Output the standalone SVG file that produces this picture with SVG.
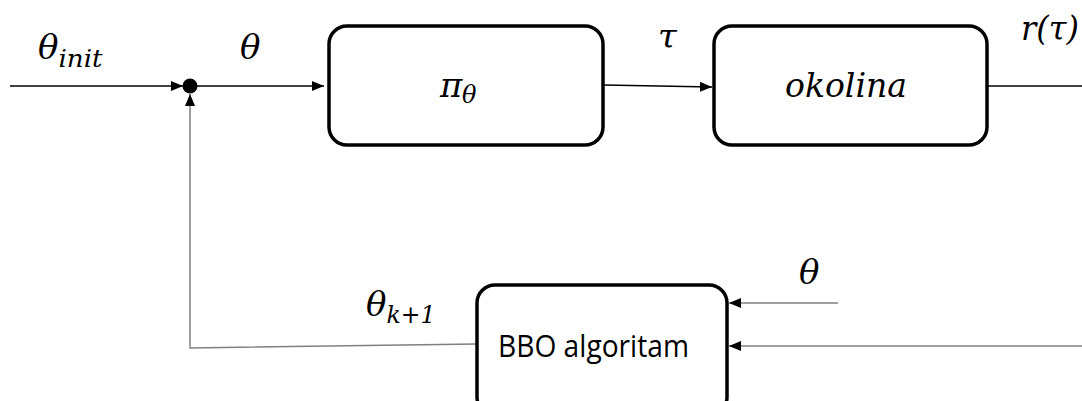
<svg xmlns="http://www.w3.org/2000/svg" width="1082" height="401" viewBox="0 0 1082 401">
<style>
.box{fill:#fff;stroke:#000;stroke-width:3.5}
.c{fill:none;stroke:#000;stroke-width:1.3}
.g{fill:none;stroke:#7f7f7f;stroke-width:1.5}
.m{font-family:"DejaVu Serif","Liberation Serif",serif;font-style:italic;fill:#000;font-size:34px}
.s{font-size:24px}
.t{font-family:"Open Sans","Liberation Sans",sans-serif;fill:#000}
</style>
<defs>
<marker id="a" viewBox="0 0 12 10" refX="12" refY="5" markerWidth="12" markerHeight="10" markerUnits="userSpaceOnUse" orient="auto"><path d="M0,0 L12,5 L0,10 z" fill="#000"/></marker>
</defs>
<rect width="1082" height="401" fill="#fff"/>
<g id="connectors">
<path class="c" d="M10,86 H183" marker-end="url(#a)"/>
<path class="c" d="M197,86 H324" marker-end="url(#a)"/>
<path class="c" d="M604,85 L712,87" marker-end="url(#a)"/>
<path class="c" d="M988,86 H1082"/>
<path class="g" d="M838,303 H729" marker-end="url(#a)"/>
<path class="g" d="M1082,346 H729" marker-end="url(#a)"/>
<path class="g" d="M477,344 L190,348 V94" marker-end="url(#a)"/>
</g>
<g id="sum"><circle cx="190" cy="86" r="7.5" fill="#000"/></g>
<g id="pi"><rect class="box" x="329" y="26" width="274" height="119" rx="18"/>
<text class="m" x="440" y="97">π</text><text class="m s" x="462" y="103">θ</text></g>
<g id="okolina"><rect class="box" x="714" y="26" width="273" height="119" rx="18"/>
<text class="m" x="785" y="97" textLength="122" lengthAdjust="spacingAndGlyphs">okolina</text></g>
<g id="bbo"><rect class="box" x="477" y="285" width="250" height="130" rx="18"/>
<text class="t" x="498" y="357" font-size="31" textLength="191" lengthAdjust="spacingAndGlyphs">BBO algoritam</text></g>
<g id="labels">
<text class="m" x="38" y="59">θ<tspan class="s" dy="8" textLength="44" lengthAdjust="spacingAndGlyphs">init</tspan></text>
<text class="m" x="240" y="59">θ</text>
<text class="m" x="658" y="48">τ</text>
<text class="m" x="1021" y="40" textLength="58" lengthAdjust="spacingAndGlyphs">r(τ)</text>
<text class="m" x="799" y="284">θ</text>
<text class="m" x="366" y="316">θ<tspan class="s" dy="7" textLength="49" lengthAdjust="spacingAndGlyphs">k+1</tspan></text>
</g>
</svg>
